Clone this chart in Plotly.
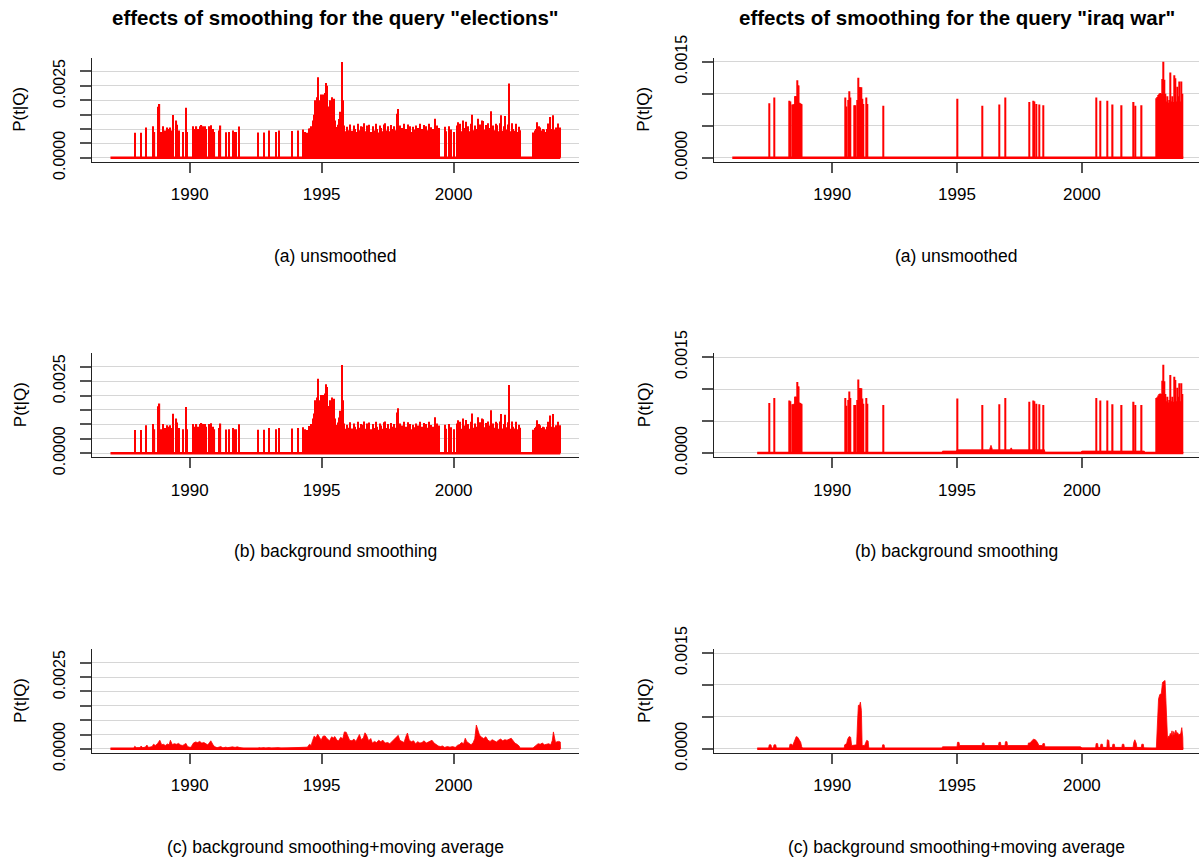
import plotly.graph_objects as go

W, H = 1199, 858
SCALE = 1e-5  # all P(t|Q) values below are given in units of 1e-5

# ================= query "elections" (left column) =================
elections_span = (1987.00, 2004.04)
# isolated spikes: (year, unsmoothed, background smoothing)
elections_spikes = [
    (1987.93, 87, 80), (1988.16, 87, 80), (1988.34, 105, 97), (1988.61, 110, 101),
    (1988.67, 90, 83), (1988.81, 177, 163), (1988.86, 187, 172), (1988.92, 90, 83),
    (1988.98, 110, 101), (1989.05, 95, 87), (1989.16, 105, 97), (1989.20, 100, 92),
    (1989.24, 105, 97), (1989.28, 95, 87), (1989.38, 149, 137), (1989.50, 130, 120),
    (1989.53, 115, 106), (1989.59, 95, 87), (1989.75, 90, 83), (1989.86, 174, 160),
    (1989.90, 90, 83), (1990.14, 110, 101), (1990.20, 100, 92), (1990.26, 110, 101),
    (1990.32, 100, 92), (1990.38, 110, 101), (1990.45, 114, 105), (1990.50, 110, 101),
    (1990.58, 110, 101), (1990.62, 100, 92), (1990.72, 110, 101), (1990.82, 113, 104),
    (1990.88, 100, 92), (1990.94, 90, 83), (1991.13, 95, 87), (1991.17, 112, 103),
    (1991.37, 89, 82), (1991.50, 90, 83), (1991.63, 95, 87), (1991.68, 90, 83),
    (1991.77, 90, 83), (1991.86, 109, 100), (1992.60, 88, 81), (1992.82, 88, 81),
    (1993.02, 95, 87), (1993.28, 90, 83), (1993.39, 95, 87), (1993.88, 93, 86),
    (1994.12, 95, 87), (1994.28, 98, 90), (1994.36, 90, 83), (1994.46, 87, 80),
    (1994.52, 102, 94),
]
# dense periods, one value every 0.05 year (one row per year of values)
elections_dense_step = 0.05
elections_dense1_start = 1994.56
elections_dense1_a = [
    [102, 110, 130, 150, 200, 210, 280, 200, 220, 215, 220, 225, 260, 250, 178, 200, 130, 210, 205, 130],
    [107, 115, 135, 160, 333, 200, 112, 92, 108, 96, 116, 0, 94, 112, 100, 90, 118, 96, 92, 110],
    [108, 120, 92, 112, 98, 115, 90, 0, 110, 95, 118, 100, 88, 112, 104, 92, 116, 120, 95, 110],
    [92, 114, 100, 88, 110, 96, 153, 170, 112, 90, 104, 118, 88, 100, 116, 96, 110, 90, 108, 98],
    [112, 90, 104, 118, 92, 100, 114, 88, 110, 96, 118, 92, 106, 100, 90, 136, 112, 96, 104, 0],
    [0, 0, 108, 92, 0, 110, 0, 98, 0, 90, 0, 112, 124, 96, 118, 92, 130, 104, 125, 96],
    [110, 92, 118, 150, 96, 112, 100, 136, 94, 116, 130, 128, 98, 114, 92, 120, 104, 162, 94, 112],
    [96, 118, 113, 92, 120, 148, 94, 110, 145, 98, 116, 258, 92, 120, 100, 94, 118, 90, 108, 96],
]
elections_dense1_b = [
    [94, 101, 120, 138, 184, 193, 258, 184, 202, 198, 202, 207, 239, 230, 164, 184, 120, 193, 189, 120],
    [98, 106, 124, 147, 306, 184, 103, 85, 99, 88, 107, 0, 86, 103, 92, 83, 109, 88, 85, 101],
    [99, 110, 85, 103, 90, 106, 83, 0, 101, 87, 109, 92, 81, 103, 96, 85, 107, 110, 87, 101],
    [85, 105, 92, 81, 101, 88, 141, 156, 103, 83, 96, 109, 81, 92, 107, 88, 101, 83, 99, 90],
    [103, 83, 96, 109, 85, 92, 105, 81, 101, 88, 109, 85, 98, 92, 83, 125, 103, 88, 96, 0],
    [0, 0, 99, 85, 0, 101, 0, 90, 0, 83, 0, 103, 114, 88, 109, 85, 120, 96, 115, 88],
    [101, 85, 109, 138, 88, 103, 92, 125, 86, 107, 120, 118, 90, 105, 85, 110, 96, 149, 86, 103],
    [88, 109, 104, 85, 110, 136, 86, 101, 133, 90, 107, 237, 85, 110, 92, 86, 109, 83, 99, 88],
]
elections_dense2_start = 2003.02
elections_dense2_a = [88, 95, 100, 124, 110, 105, 95, 100, 98, 90, 100, 119, 103, 142, 100, 148, 98, 105, 100, 119, 105]
elections_dense2_b = [81, 87, 92, 114, 101, 97, 87, 92, 90, 83, 92, 109, 95, 131, 92, 136, 90, 97, 92, 109, 97]
# (c) background smoothing + moving average: (year, value)
elections_moving_avg = [
    (1987.00, 0), (1987.88, 0), (1987.92, 9), (1987.98, 4), (1988.12, 4), (1988.16, 10), (1988.22, 4),
    (1988.32, 6), (1988.38, 13), (1988.44, 5), (1988.58, 8), (1988.63, 16), (1988.70, 12), (1988.78, 18),
    (1988.87, 30), (1988.94, 14), (1989.00, 16), (1989.08, 12), (1989.16, 17), (1989.22, 14), (1989.27, 30),
    (1989.34, 15), (1989.42, 18), (1989.50, 16), (1989.58, 19), (1989.66, 13), (1989.74, 12), (1989.80, 15),
    (1989.86, 19), (1989.92, 8), (1990.02, 5), (1990.08, 10), (1990.14, 20), (1990.22, 24), (1990.30, 22),
    (1990.38, 26), (1990.46, 20), (1990.54, 22), (1990.60, 18), (1990.68, 14), (1990.74, 20), (1990.80, 28),
    (1990.88, 15), (1990.94, 8), (1991.04, 4), (1991.12, 6), (1991.18, 8), (1991.26, 3), (1991.36, 6),
    (1991.44, 4), (1991.52, 6), (1991.62, 7), (1991.72, 5), (1991.80, 7), (1991.88, 5), (1991.96, 3),
    (1992.10, 0), (1992.58, 0), (1992.62, 4), (1992.70, 2), (1992.80, 4), (1992.88, 2), (1993.00, 4),
    (1993.10, 2), (1993.26, 4), (1993.36, 4), (1993.46, 2), (1993.86, 3), (1994.10, 4), (1994.26, 6),
    (1994.36, 4), (1994.46, 6), (1994.54, 16), (1994.60, 12), (1994.66, 30), (1994.72, 45), (1994.78, 38),
    (1994.85, 51), (1994.92, 40), (1994.98, 30), (1995.05, 44), (1995.13, 45), (1995.20, 36), (1995.30, 28),
    (1995.38, 42), (1995.44, 38), (1995.50, 43), (1995.58, 30), (1995.64, 28), (1995.72, 40), (1995.80, 35),
    (1995.86, 59), (1995.93, 58), (1996.00, 40), (1996.06, 30), (1996.15, 28), (1996.22, 34), (1996.30, 26),
    (1996.38, 40), (1996.43, 50), (1996.50, 32), (1996.58, 38), (1996.64, 56), (1996.70, 48), (1996.78, 28),
    (1996.86, 36), (1996.92, 20), (1997.00, 26), (1997.08, 22), (1997.16, 30), (1997.24, 25), (1997.32, 30),
    (1997.40, 20), (1997.50, 22), (1997.58, 18), (1997.66, 25), (1997.74, 30), (1997.82, 38), (1997.90, 47),
    (1997.96, 30), (1998.04, 25), (1998.12, 22), (1998.20, 45), (1998.25, 55), (1998.32, 30), (1998.40, 25),
    (1998.48, 28), (1998.56, 18), (1998.64, 25), (1998.72, 20), (1998.80, 22), (1998.88, 28), (1998.96, 20),
    (1999.04, 24), (1999.12, 26), (1999.18, 30), (1999.26, 20), (1999.34, 14), (1999.42, 10), (1999.50, 8),
    (1999.58, 10), (1999.66, 5), (1999.76, 8), (1999.86, 6), (1999.96, 8), (2000.06, 5), (2000.14, 12),
    (2000.22, 15), (2000.30, 22), (2000.38, 18), (2000.44, 37), (2000.50, 25), (2000.58, 20), (2000.66, 14),
    (2000.74, 22), (2000.80, 35), (2000.86, 83), (2000.92, 64), (2000.98, 48), (2001.06, 40), (2001.14, 36),
    (2001.22, 42), (2001.30, 30), (2001.38, 26), (2001.46, 32), (2001.54, 28), (2001.62, 24), (2001.70, 30),
    (2001.78, 34), (2001.86, 28), (2001.94, 32), (2002.02, 30), (2002.10, 35), (2002.18, 37), (2002.24, 30),
    (2002.32, 20), (2002.40, 16), (2002.48, 10), (2002.52, 0), (2003.00, 0), (2003.04, 6), (2003.12, 12),
    (2003.20, 18), (2003.28, 16), (2003.36, 20), (2003.44, 14), (2003.52, 16), (2003.60, 18), (2003.68, 14),
    (2003.74, 30), (2003.78, 59), (2003.82, 45), (2003.86, 22), (2003.92, 25), (2003.98, 26), (2004.04, 24),
    (2004.05, 0),
]

# ================= query "iraq war" (right column) =================
iraq_span_a = (1986.00, 2004.06)
iraq_span_bc = (1987.00, 2004.06)
iraq_spikes = [
    (1987.49, 85, 78), (1987.67, 94, 86), (1988.30, 89, 82), (1988.33, 88, 81), (1988.42, 83, 76),
    (1988.45, 83, 76), (1988.48, 84, 77), (1988.51, 96, 88), (1988.54, 96, 88), (1988.57, 96, 88),
    (1988.60, 121, 111), (1988.63, 113, 104), (1988.66, 113, 104), (1988.69, 86, 79), (1988.72, 85, 78),
    (1988.75, 84, 77), (1988.78, 83, 76), (1990.51, 94, 86), (1990.58, 80, 74), (1990.63, 90, 83),
    (1990.67, 104, 96), (1990.72, 94, 86), (1990.87, 82, 75), (1990.93, 82, 75), (1991.00, 90, 83),
    (1991.04, 125, 115), (1991.07, 110, 101), (1991.10, 110, 101), (1991.13, 110, 101), (1991.16, 110, 101),
    (1991.19, 92, 85), (1991.26, 84, 77), (1991.35, 94, 86), (1991.42, 84, 77), (1992.04, 81, 75),
    (1995.03, 92, 85), (1996.03, 81, 75), (1996.69, 83, 76), (1996.95, 94, 86), (1997.88, 87, 80),
    (1998.04, 89, 82), (1998.11, 88, 81), (1998.18, 84, 77), (1998.28, 83, 76), (1998.44, 82, 75),
    (2000.57, 94, 86), (2000.75, 89, 82), (2001.03, 89, 82), (2001.24, 83, 76), (2001.60, 82, 75),
    (2002.08, 87, 80), (2002.13, 81, 75), (2002.40, 82, 75),
]
iraq_dense_start = 2003.00
iraq_dense_step = 0.04
iraq_dense_a = [93, 95, 98, 100, 101, 100, 123, 150, 122, 100, 88, 96, 86, 90, 133, 88, 96, 87, 129, 124,
                88, 111, 96, 119, 88, 119, 100]
iraq_dense_b = [86, 87, 90, 92, 93, 92, 113, 138, 112, 92, 81, 88, 79, 83, 122, 81, 88, 80, 119, 114,
                81, 102, 88, 109, 81, 109, 92]
iraq_background = [
    (1987.00, 0), (1994.40, 0), (1994.42, 3), (1994.98, 3), (1995.00, 5), (1996.30, 5), (1996.36, 12),
    (1996.42, 5), (1997.12, 5), (1997.17, 8), (1997.22, 5), (1998.50, 5), (1998.52, 1), (1999.95, 1),
    (2000.00, 3), (2002.50, 3), (2002.52, 0), (2004.06, 0),
]
iraq_moving_avg = [
    (1987.00, 0), (1987.45, 0), (1987.48, 6), (1987.55, 6), (1987.58, 0), (1987.64, 0), (1987.67, 6),
    (1987.74, 6), (1987.77, 0), (1988.28, 0), (1988.31, 7), (1988.38, 7), (1988.42, 5), (1988.46, 10),
    (1988.52, 14), (1988.56, 19), (1988.62, 18), (1988.68, 14), (1988.74, 10), (1988.78, 3), (1988.82, 0),
    (1990.48, 0), (1990.50, 6), (1990.58, 8), (1990.62, 15), (1990.68, 19), (1990.74, 18), (1990.78, 5),
    (1990.84, 5), (1990.90, 6), (1990.98, 6), (1991.02, 45), (1991.05, 68), (1991.10, 68), (1991.13, 73),
    (1991.17, 60), (1991.20, 5), (1991.30, 5), (1991.34, 10), (1991.38, 13), (1991.44, 12), (1991.47, 0),
    (1992.00, 0), (1992.02, 6), (1992.08, 6), (1992.10, 0), (1994.40, 0), (1994.42, 3), (1995.00, 3),
    (1995.02, 10), (1995.08, 10), (1995.10, 5), (1996.00, 5), (1996.02, 9), (1996.08, 9), (1996.10, 5),
    (1996.66, 5), (1996.68, 10), (1996.74, 10), (1996.76, 5), (1996.92, 5), (1996.94, 11), (1997.00, 11),
    (1997.02, 5), (1997.84, 5), (1997.86, 9), (1997.92, 9), (1998.00, 12), (1998.06, 15), (1998.14, 14),
    (1998.22, 10), (1998.28, 5), (1998.42, 5), (1998.44, 8), (1998.50, 8), (1998.52, 3), (1999.95, 3),
    (2000.00, 1), (2000.55, 1), (2000.57, 8), (2000.63, 8), (2000.65, 2), (2000.74, 2), (2000.76, 7),
    (2000.82, 7), (2000.84, 2), (2001.00, 2), (2001.02, 14), (2001.08, 13), (2001.10, 2), (2001.22, 2),
    (2001.24, 7), (2001.30, 7), (2001.32, 2), (2001.60, 2), (2001.62, 7), (2001.68, 7), (2001.70, 2),
    (2002.05, 2), (2002.08, 10), (2002.12, 14), (2002.18, 8), (2002.20, 2), (2002.38, 2), (2002.40, 7),
    (2002.46, 7), (2002.48, 1), (2002.98, 0), (2003.02, 40), (2003.07, 78), (2003.12, 85), (2003.18, 86),
    (2003.23, 104), (2003.28, 106), (2003.33, 107), (2003.36, 80), (2003.39, 35), (2003.43, 15),
    (2003.47, 20), (2003.50, 18), (2003.54, 24), (2003.58, 22), (2003.61, 28), (2003.64, 19), (2003.68, 27),
    (2003.72, 22), (2003.76, 29), (2003.80, 24), (2003.84, 25), (2003.88, 21), (2003.92, 23), (2003.96, 24),
    (2004.00, 33), (2004.04, 18), (2004.05, 0),
]

# ================= text =================
titles = ['effects of smoothing for the query "elections"', 'effects of smoothing for the query "iraq war"']
subtitles = ['(a) unsmoothed', '(b) background smoothing', '(c) background smoothing+moving average']
y_title = 'P(t|Q)'
x_ticks = [1990, 1995, 2000]
left_y_ticks = [0, 0.0005, 0.001, 0.0015, 0.002, 0.0025, 0.003]
left_y_labels = ['0.0000', '', '', '', '', '0.0025', '']
right_y_ticks = [0, 0.0005, 0.001, 0.0015]
right_y_labels = ['0.0000', '', '', '0.0015']

# ================= layout geometry (pixels) =================
col_px = {'L': (92.0, 578.5), 'R': (714.3, 1199.0)}
row_px = [(58.0, 161.7), (353.3, 457.0), (649.3, 752.7)]
x_range = {'L': [1986.30, 2004.73], 'R': [1985.28, 2004.69]}
y_range = {'L': [-0.000134, 0.003467], 'R': [-0.0000627, 0.001558]}

RED = '#ff0000'
FONT = 'Liberation Sans, Arial, Helvetica, sans-serif'

fig = go.Figure()


def ax_ids(i):
    return ('x' if i == 1 else f'x{i}'), ('y' if i == 1 else f'y{i}')


def flatten(rows):
    return [v for r in rows for v in r]


def add_bars(i, years, vals, width):
    xa, ya = ax_ids(i)
    fig.add_trace(go.Bar(x=years, y=[v * SCALE for v in vals], base=0, width=width,
                         marker=dict(color=RED, line=dict(width=0)),
                         xaxis=xa, yaxis=ya, showlegend=False, hoverinfo='skip'))


def add_baseline(i, span):
    xa, ya = ax_ids(i)
    fig.add_trace(go.Scatter(x=list(span), y=[0, 0], mode='lines',
                             line=dict(color=RED, width=2.5),
                             xaxis=xa, yaxis=ya, showlegend=False, hoverinfo='skip'))


def add_area(i, pairs):
    xa, ya = ax_ids(i)
    fig.add_trace(go.Scatter(x=[p[0] for p in pairs], y=[p[1] * SCALE for p in pairs],
                             mode='lines', fill='tozeroy', fillcolor=RED,
                             line=dict(color=RED, width=0.8),
                             xaxis=xa, yaxis=ya, showlegend=False, hoverinfo='skip'))


def grid_years(start, step, n):
    return [round(start + k * step, 4) for k in range(n)]


# --- left column: elections ---
e_years = [s[0] for s in elections_spikes]
d1a, d1b = flatten(elections_dense1_a), flatten(elections_dense1_b)
d1_years = grid_years(elections_dense1_start, elections_dense_step, len(d1a))
d2_years = grid_years(elections_dense2_start, elections_dense_step, len(elections_dense2_a))
for panel, col_idx in ((1, 1), (3, 2)):
    add_bars(panel, e_years, [s[col_idx] for s in elections_spikes], 0.045)
    add_bars(panel, d1_years, d1a if col_idx == 1 else d1b, 0.04)
    add_bars(panel, d2_years, elections_dense2_a if col_idx == 1 else elections_dense2_b, 0.04)
    add_baseline(panel, elections_span)
add_area(5, elections_moving_avg)
add_baseline(5, elections_span)

# --- right column: iraq war ---
i_years = [s[0] for s in iraq_spikes]
id_years = grid_years(iraq_dense_start, iraq_dense_step, len(iraq_dense_a))
add_bars(2, i_years, [s[1] for s in iraq_spikes], 0.045)
add_bars(2, id_years, iraq_dense_a, 0.042)
add_baseline(2, iraq_span_a)
add_area(4, iraq_background)
add_bars(4, i_years, [s[2] for s in iraq_spikes], 0.045)
add_bars(4, id_years, iraq_dense_b, 0.042)
add_baseline(4, iraq_span_bc)
add_area(6, iraq_moving_avg)
add_baseline(6, iraq_span_bc)

layout = dict(
    width=W, height=H, autosize=False, margin=dict(l=0, r=0, t=0, b=0, pad=0, autoexpand=False),
    paper_bgcolor='white', plot_bgcolor='white', barmode='overlay',
    font=dict(family=FONT, size=16, color='black'), showlegend=False,
)

annotations = []
for i in range(1, 7):
    col = 'L' if i % 2 == 1 else 'R'
    row = (i - 1) // 2
    x0, x1 = col_px[col]
    top, bot = row_px[row]
    xa, ya = ax_ids(i)
    layout['xaxis' if i == 1 else f'xaxis{i}'] = dict(
        domain=[x0 / W, x1 / W], range=x_range[col], anchor=ya, automargin=False,
        tickmode='array', tickvals=x_ticks, ticktext=[str(t) for t in x_ticks],
        showline=True, linecolor='#222', linewidth=1.2, mirror=False,
        ticks='outside', ticklen=10, tickwidth=1.5, tickcolor='#555',
        ticklabelstandoff=7,
        showgrid=False, zeroline=False, fixedrange=True,
        tickfont=dict(family=FONT, size=17, color='black'))
    layout['yaxis' if i == 1 else f'yaxis{i}'] = dict(
        domain=[1 - bot / H, 1 - top / H], range=y_range[col], anchor=xa, automargin=False,
        tickmode='array',
        tickvals=left_y_ticks if col == 'L' else right_y_ticks,
        ticktext=left_y_labels if col == 'L' else right_y_labels,
        tickangle=-90,
        showline=True, linecolor='#222', linewidth=1.2,
        ticks='outside', ticklen=11, tickwidth=1.5, tickcolor='#555',
        ticklabelstandoff=9,
        showgrid=True, gridcolor='#d6d6d6', gridwidth=1.3,
        zeroline=False, fixedrange=True,
        tickfont=dict(family=FONT, size=16, color='black'))
    cx = (x0 + x1) / 2
    annotations.append(dict(text=subtitles[row], x=cx / W, y=1 - (256.0 + 295.3 * row) / H,
                            xref='paper', yref='paper', showarrow=False,
                            xanchor='center', yanchor='middle',
                            font=dict(family=FONT, size=17.5, color='black')))
    annotations.append(dict(text=y_title, x=(20.0 if col == 'L' else 644.0) / W,
                            y=1 - ((top + bot) / 2) / H, xref='paper', yref='paper',
                            showarrow=False, textangle=-90, xanchor='center', yanchor='middle',
                            font=dict(family=FONT, size=17, color='black')))

for k, col in enumerate(('L', 'R')):
    x0, x1 = col_px[col]
    annotations.append(dict(text='<b>' + titles[k] + '</b>',
                            x=((x0 + x1) / 2) / W, y=1 - 18.0 / H,
                            xref='paper', yref='paper', showarrow=False,
                            xanchor='center', yanchor='middle',
                            font=dict(family=FONT, size=20.5, color='black')))

layout['annotations'] = annotations
fig.update_layout(**layout)

fig.write_html("out.html", config={'displayModeBar': False},
               post_script="document.body.style.margin='0px';document.body.style.overflow='hidden';")
